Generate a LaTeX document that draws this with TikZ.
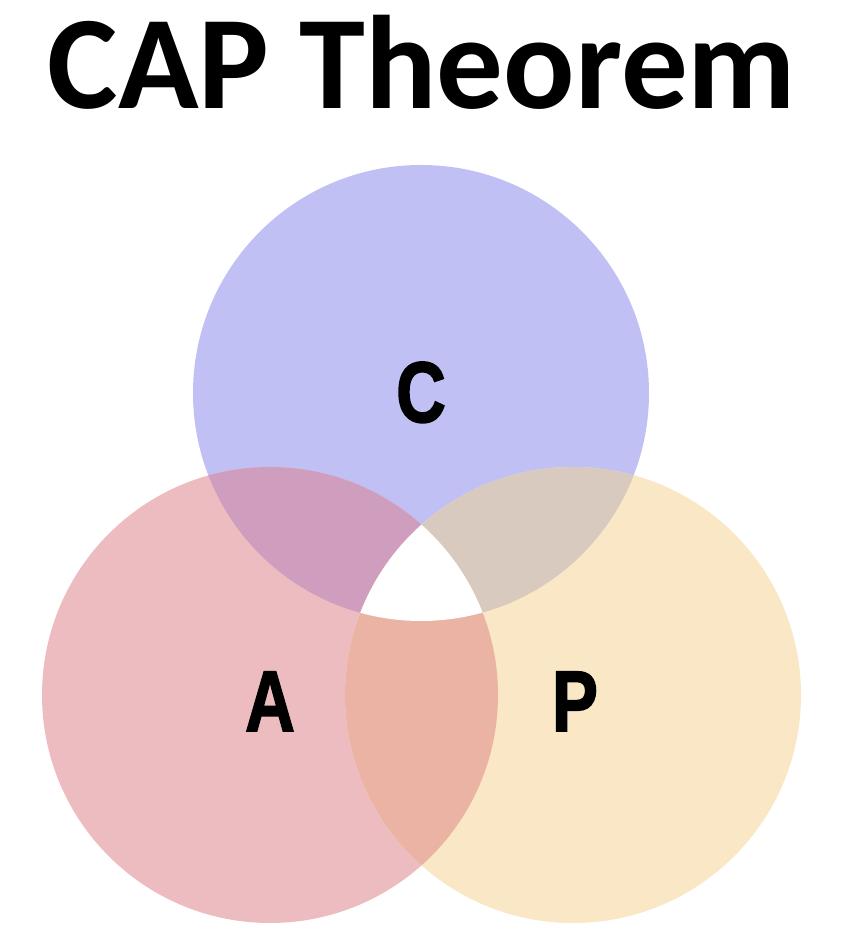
\documentclass[tikz,border=0pt]{standalone}
\usepackage{fontspec}
\setmainfont{Carlito}
\newfontfamily\letterfont[BoldFeatures={FakeBold=2}]{Liberation Sans}
\usetikzlibrary{positioning}
\definecolor{ConsBlue}{HTML}{C0C0F5}
\definecolor{AvailPink}{HTML}{EDBCC0}
\definecolor{PartYellow}{HTML}{F9E7C6}
\definecolor{CAMauve}{HTML}{CF9EBF}
\definecolor{CPTan}{HTML}{D8CABE}
\definecolor{APSalmon}{HTML}{EBB3A3}

\begin{document}
\begin{tikzpicture}[x=1pt,y=1pt,
    letter/.style={font=\letterfont\bfseries\fontsize{86}{86}\selectfont,
      xscale=0.8,anchor=base,inner sep=0pt}]
        \useasboundingbox (0,0) rectangle (864,946);
        \def\rad{228}
        \coordinate (cC) at (421,553);
        \coordinate (cA) at (270,251);
        \coordinate (cP) at (573,251);
        % the three sets
        \foreach \c/\col in {cC/ConsBlue,cA/AvailPink,cP/PartYellow}
          \fill[\col] (\c) circle (\rad);
        % pairwise overlaps
        \foreach \a/\b/\col in {cA/cC/CAMauve,cC/cP/CPTan,cA/cP/APSalmon}
          {
            \begin{scope}
              \clip (\a) circle (\rad);
              \fill[\col] (\b) circle (\rad);
            \end{scope}
          }
        % all three together stay blank
        \begin{scope}
          \clip (cA) circle (\rad);
          \clip (cP) circle (\rad);
          \fill[white] (cC) circle (\rad);
        \end{scope}
        \node[font=\bfseries\fontsize{133}{133}\selectfont,anchor=base,inner sep=0pt]
          (title) at (422,837) {CAP Theorem};
        \node[letter] (labC) at (421,524) {C};
        \node[letter] (labA) at (270,215) {A};
        \node[letter] (labP) at (575,215) {P};
      \end{tikzpicture}
\end{document}
